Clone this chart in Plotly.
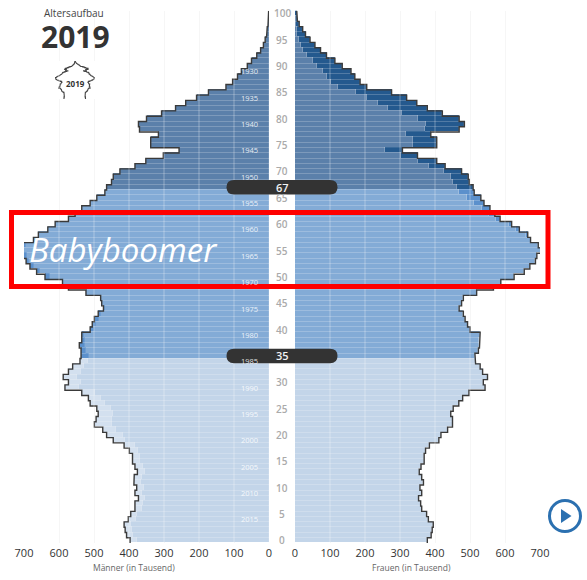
import numpy as np
import plotly.graph_objects as go

ages = list(range(0, 101))
men = [397,407,411,414,402,395,383,383,373,383,378,386,385,376,383,390,390,399,414,445,
       464,475,499,494,488,492,511,516,535,583,573,588,573,561,540,537,537,542,535,535,
       511,505,499,488,473,478,481,523,573,590,640,664,683,694,702,710,702,673,659,632,
       611,573,554,535,511,492,469,464,450,445,426,383,352,302,257,338,338,316,370,373,
       350,307,267,238,207,173,123,104,90,79,62,50,35,24,16,11,7,5,3,2,1]
women = [378,389,392,395,381,376,362,359,353,362,357,367,362,355,360,369,369,373,384,411,
         417,436,450,450,445,452,468,479,497,543,538,550,536,529,516,514,524,527,527,529,
         500,493,486,481,469,476,481,519,567,588,626,655,671,687,691,703,695,673,665,641,
         619,586,571,557,540,531,512,509,498,495,476,429,405,350,307,405,405,388,469,484,
         469,421,378,348,319,276,205,186,171,160,135,114,90,73,57,43,30,22,12,7,5]
x_ticks = [0,100,200,300,400,500,600,700]
age_ticks = [0,5,10,15,20,25,30,40,45,50,55,60,65,70,75,80,85,90,95,100]
birth_years = list(range(1930,2016,5))
survey_year = 2019
zone_limits = [35, 67]
zone_common = ["#c3d5e9", "#83abd6", "#5b80aa"]
zone_surplus_men = ["#d3e0ef", "#5b90cc", "#4d76a4"]
zone_surplus_women = ["#d3e0ef", "#5b90cc", "#24598e"]
FONT = "Open Sans"

W, H = 587, 580
L0, L700, R0, R700 = 269, 24, 295, 540
YB, YT = 543.0, 10.8

men_a, women_a, ages_a = np.array(men), np.array(women), np.array(ages)
common = np.minimum(men_a, women_a)
zone = np.digitize(ages_a, zone_limits)
col_common = [zone_common[z] for z in zone]
col_men = [zone_surplus_men[z] for z in zone]
col_women = [zone_surplus_women[z] for z in zone]

def px(x): return x / W
def py(y): return 1 - y / H

fig = go.Figure()
def bars(xvals, colors, xa):
    fig.add_trace(go.Bar(y=ages, x=list(xvals), orientation="h", xaxis=xa, yaxis="y",
                         marker=dict(color=colors, line=dict(color="rgba(255,255,255,0.14)", width=0.8)),
                         showlegend=False, hoverinfo="skip"))

bars(common, col_common, "x")
bars(men_a - common, col_men, "x")
bars(common, col_common, "x2")
bars(women_a - common, col_women, "x2")

def outline(vals):
    xs, ys = [], []
    for a, v in zip(ages, vals):
        xs += [v, v]
        ys += [a - .5, a + .5]
    return xs, ys

for vals, xa in ((men, "x"), (women, "x2")):
    xs, ys = outline(vals)
    fig.add_trace(go.Scatter(x=xs, y=ys, xaxis=xa, yaxis="y", mode="lines",
                             line=dict(color="#3a3a3a", width=1.4), showlegend=False, hoverinfo="skip"))

for vals, xa, ya in ((men, "x3", "y3"), (women, "x4", "y3")):
    xs, ys = outline(vals)
    fig.add_trace(go.Scatter(x=xs, y=ys, xaxis=xa, yaxis=ya, mode="lines",
                             line=dict(color="#444444", width=1.1), showlegend=False, hoverinfo="skip"))

axis_common = dict(tickvals=x_ticks, ticktext=[str(t) for t in x_ticks], showgrid=True, gridcolor="#f5f5f5",
                   gridwidth=1, zeroline=False, showline=False, ticks="", anchor="y", fixedrange=True,
                   tickfont=dict(family=FONT, size=11, color="#333333"), ticklabelstandoff=2)
inset = dict(visible=False, fixedrange=True)
fig.update_layout(
    width=W, height=H, margin=dict(l=0, r=0, t=0, b=0, autoexpand=False),
    paper_bgcolor="white", plot_bgcolor="white", barmode="stack", bargap=0,
    xaxis=dict(domain=[px(L700), px(L0)], range=[700, 0], **axis_common),
    xaxis2=dict(domain=[px(R0), px(R700)], range=[0, 700], **axis_common),
    yaxis=dict(domain=[py(YB), py(YT)], range=[-0.5, 100.5], visible=False, fixedrange=True),
    xaxis3=dict(domain=[px(55), px(75)], range=[720, 0], anchor="y3", **inset),
    xaxis4=dict(domain=[px(75), px(95)], range=[0, 720], anchor="y3", **inset),
    yaxis3=dict(domain=[py(99), py(61)], range=[0, 100], anchor="x3", **inset),
)

shapes = []
for t in x_ticks[1:-1]:
    for xref in ("x", "x2"):
        shapes.append(dict(type="line", xref=xref, yref="paper", x0=t, x1=t, y0=py(YB), y1=py(YT),
                           line=dict(color="rgba(255,255,255,0.33)", width=1), layer="above"))
def pill(age):
    c = 540.4 - 5.27 * age
    return dict(type="path", xref="paper", yref="paper", layer="above", line_width=0, fillcolor="#333333",
                path=(f"M {px(234)} {py(c-7.2)} L {px(330)} {py(c-7.2)} "
                      f"Q {px(337.5)} {py(c-7.2)} {px(337.5)} {py(c)} Q {px(337.5)} {py(c+7.2)} {px(330)} {py(c+7.2)} "
                      f"L {px(234)} {py(c+7.2)} Q {px(226.5)} {py(c+7.2)} {px(226.5)} {py(c)} "
                      f"Q {px(226.5)} {py(c-7.2)} {px(234)} {py(c-7.2)} Z"))
for a in zone_limits:
    shapes.append(pill(a))
shapes.append(dict(type="rect", xref="paper", yref="paper", x0=px(11.5), x1=px(548), y0=py(286.5), y1=py(212.5),
                   line=dict(color="#ff0000", width=5), fillcolor="rgba(0,0,0,0)", layer="above"))
shapes.append(dict(type="circle", xref="paper", yref="paper", x0=px(549.5), x1=px(580.5), y0=py(531.5), y1=py(500.5),
                   line=dict(color="#2b70b0", width=3), fillcolor="white", layer="above"))
shapes.append(dict(type="path", xref="paper", yref="paper", layer="above", line_width=0, fillcolor="#2b70b0",
                   path=f"M {px(561)} {py(509)} L {px(571.5)} {py(516)} L {px(561)} {py(523)} Z"))
fig.update_layout(shapes=shapes)

ann = []
def text(x, y, s, size, color, weight=None, anchor="center", style=None):
    ann.append(dict(xref="paper", yref="paper", x=px(x), y=py(y), text=s, showarrow=False, xanchor=anchor, yanchor="middle",
                    font=dict(family=FONT, size=size, color=color, weight=weight or 400, style=style or "normal")))

def age_y(a): return 540.4 - 5.27 * a

for a in age_ticks:
    text(282, age_y(a), str(a), 10, "#aaaaaa", weight=600)
for yr in birth_years:
    text(260, age_y(survey_year - yr), str(yr), 7.5, "rgba(255,255,255,0.85)", anchor="right")
for a in zone_limits:
    text(282, age_y(a), str(a), 11, "#f4f4f4", weight=600)
text(74.5, 13.5, "Altersaufbau", 10, "#444444")
text(75, 37, str(survey_year), 30, "#333333", weight=700)
text(75, 83, str(survey_year), 8, "#333333", weight=700)
text(134, 567, "Männer (in Tausend)", 8.5, "#666666")
text(411, 567, "Frauen (in Tausend)", 8.5, "#666666")
text(123.5, 250, "Babyboomer", 33, "white", style="italic")
fig.update_layout(annotations=ann)

fig.write_html("out.html", config=dict(displayModeBar=False),
               post_script="document.body.style.margin='0';")
